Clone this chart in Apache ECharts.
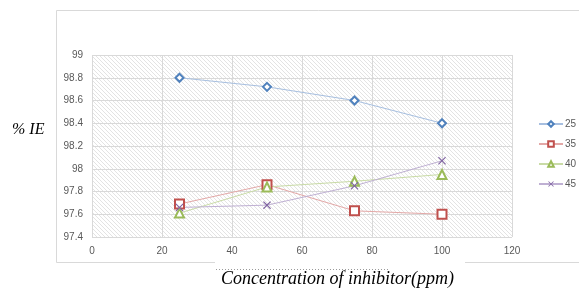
<!DOCTYPE html>
<html>
<head>
<meta charset="utf-8">
<script src="https://cdn.jsdelivr.net/npm/echarts@6/dist/echarts.min.js"></script>
<style>
html, body { margin: 0; padding: 0; background: #fff; }
#chart { width: 579px; height: 291px; }
</style>
</head>
<body>
<div id="chart"></div>
<script>
// concentration (ppm)
var conc = [25, 50, 75, 100];
// % IE at each temperature
var ie25 = [98.8, 98.72, 98.6, 98.4];
var ie35 = [97.69, 97.86, 97.63, 97.6];
var ie40 = [97.61, 97.84, 97.89, 97.95];
var ie45 = [97.66, 97.68, 97.85, 98.07];
var seriesNames = ['25', '35', '40', '45'];

var myChart = echarts.init(document.getElementById('chart'));

// hatch background for plot area
var hatch = document.createElement('canvas');
hatch.width = 4;
hatch.height = 4;
var hctx = hatch.getContext('2d');
hctx.fillStyle = '#ffffff';
hctx.fillRect(0, 0, 4, 4);
hctx.strokeStyle = '#e3e3e3';
hctx.lineWidth = 1;
hctx.beginPath();
hctx.moveTo(0, 0); hctx.lineTo(4, 4);
hctx.moveTo(-1, 3); hctx.lineTo(1, 5);
hctx.moveTo(3, -1); hctx.lineTo(5, 1);
hctx.stroke();

function pairs(vals) {
    return conc.map(function (c, i) { return [c, vals[i]]; });
}

var crossPath = 'path://M1,0L5,4L9,0L10,1L6,5L10,9L9,10L5,6L1,10L0,9L4,5L0,1Z';

function mkSeries(name, vals, symbol, size, markColor, lineColor, fillMark) {
    return {
        name: name,
        type: 'line',
        data: pairs(vals),
        symbol: symbol,
        symbolSize: size,
        showAllSymbol: true,
        lineStyle: { color: lineColor, width: 1 },
        itemStyle: {
            color: fillMark ? markColor : '#ffffff',
            borderColor: markColor,
            borderWidth: fillMark ? 0 : 2
        },
        emphasis: { disabled: true }
    };
}

var option = {
    backgroundColor: '#fff',
    animation: false,
    textStyle: { fontFamily: 'Liberation Sans, Arial, sans-serif' },
    grid: {
        left: 92,
        right: 67,
        top: 55,
        bottom: 54,
        show: true,
        borderWidth: 0,
        backgroundColor: { image: hatch, repeat: 'repeat' }
    },
    legend: {
        orient: 'vertical',
        left: 538,
        top: 119,
        padding: 0,
        itemWidth: 24,
        itemHeight: 7,
        itemGap: 10,
        textStyle: { color: '#595959', fontSize: 10, padding: [0, 0, 0, -3] },
        data: seriesNames
    },
    xAxis: {
        type: 'value',
        min: 0,
        max: 120,
        interval: 20,
        axisLine: { show: false },
        axisTick: { show: false },
        axisLabel: { color: '#595959', fontSize: 10, margin: 9 },
        splitLine: { show: true, lineStyle: { color: '#d9d9d9', width: 1 } }
    },
    yAxis: {
        type: 'value',
        min: 97.4,
        max: 99,
        interval: 0.2,
        axisLine: { show: false },
        axisTick: { show: false },
        axisLabel: { color: '#595959', fontSize: 10, margin: 9 },
        splitLine: { show: true, lineStyle: { color: '#d9d9d9', width: 1 } }
    },
    graphic: [
        {
            type: 'rect',
            z: -1,
            shape: { x: 56.5, y: 10.5, width: 600, height: 252 },
            style: { fill: 'none', stroke: '#d9d9d9', lineWidth: 1 }
        },
        {
            type: 'rect',
            z: 10,
            shape: { x: 215, y: 259, width: 250, height: 32 },
            style: { fill: '#ffffff' }
        },
        {
            type: 'line',
            z: 11,
            shape: { x1: 216, y1: 269.5, x2: 388, y2: 269.5 },
            style: { stroke: '#9a9a9a', lineWidth: 1, lineDash: [1, 2] }
        },
        {
            type: 'text',
            z: 12,
            left: 12,
            top: 122,
            style: {
                text: '% IE',
                font: 'italic 16px "Liberation Serif", "Times New Roman", serif',
                fill: '#000'
            }
        },
        {
            type: 'text',
            z: 12,
            left: 221,
            top: 270,
            style: {
                text: 'Concentration of inhibitor(ppm)',
                font: 'italic 18px "Liberation Serif", "Times New Roman", serif',
                fill: '#000'
            }
        }
    ],
    series: [
        mkSeries('25', ie25, 'diamond', 8, '#4f81bd', '#a7bfe0', false),
        mkSeries('35', ie35, 'rect', 9, '#c0504d', '#e3a8a7', false),
        mkSeries('40', ie40, 'triangle', 9, '#9bbb59', '#c9dba6', false),
        mkSeries('45', ie45, crossPath, 8, '#8064a2', '#bfb0d3', true)
    ]
};

myChart.setOption(option);
</script>
</body>
</html>
